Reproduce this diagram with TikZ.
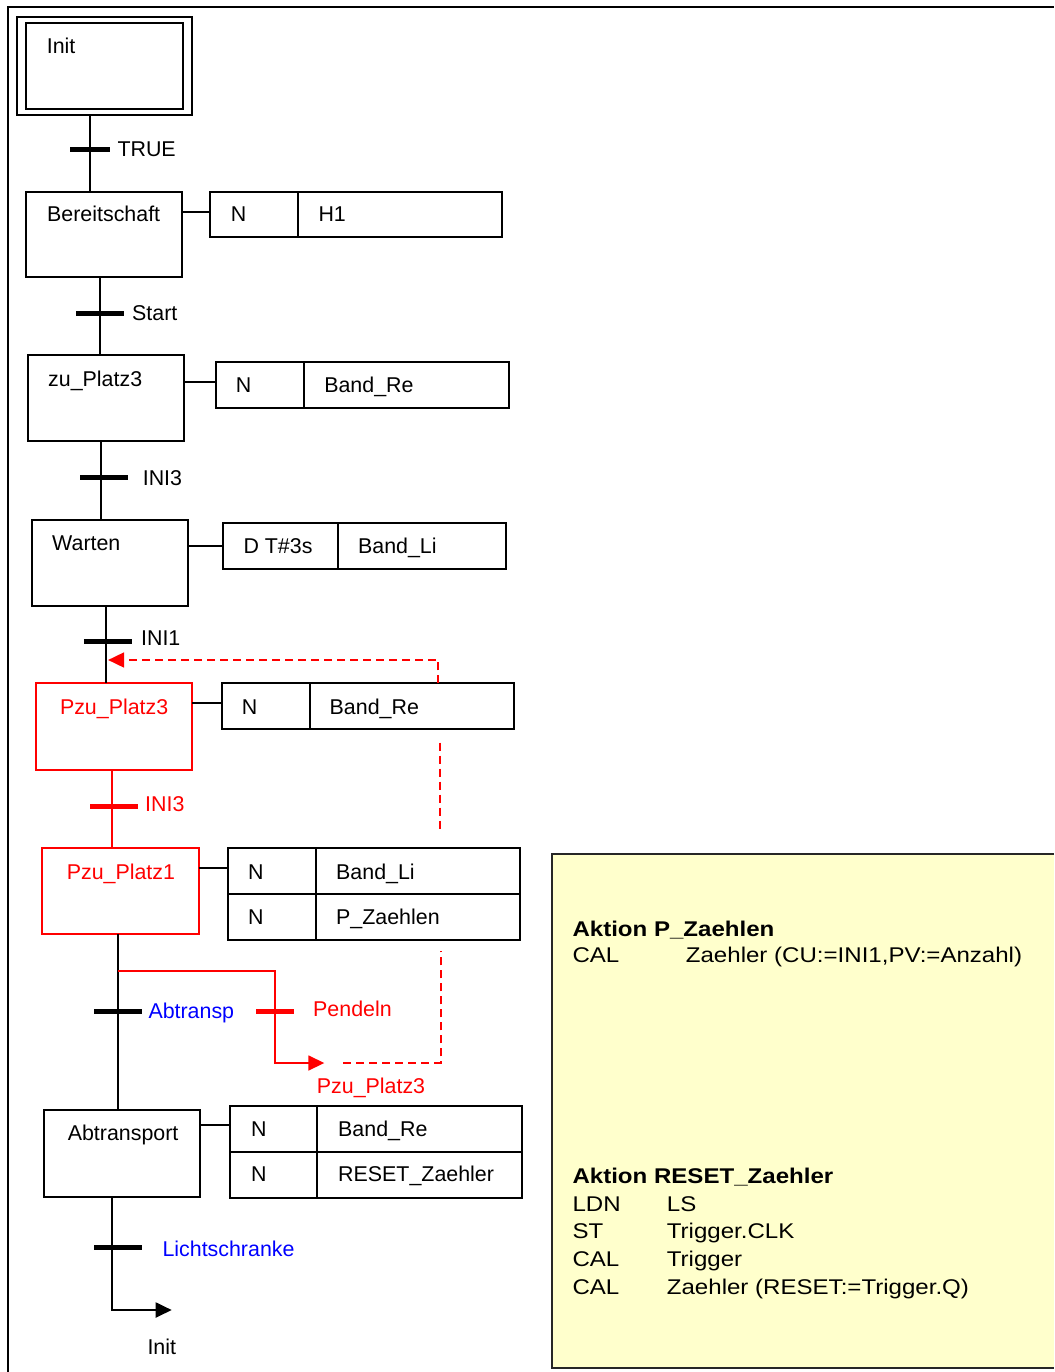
\documentclass[tikz,border=0pt]{standalone}
\usepackage{fontspec}
\setmainfont{Liberation Sans}
\newfontfamily\yfont[FakeStretch=1.13]{Liberation Sans}
\usetikzlibrary{arrows.meta,calc}
\definecolor{yel}{HTML}{FFFFCC}
\definecolor{sred}{HTML}{FF0000}
\definecolor{sblue}{HTML}{0000FF}
\begin{document}
\begin{tikzpicture}[x=1pt,y=-1pt,
  box/.style={draw, line width=2pt, inner sep=0pt, outer sep=0pt, anchor=north west},
  rbox/.style={box, draw=sred},
  cell/.style={box, fill=white},
  lbl/.style={inner sep=0pt, outer sep=0pt, anchor=base west, xshift=-0.8pt, font=\fontsize{21.4}{25}\selectfont},
  ylbl/.style={inner sep=0pt, outer sep=0pt, anchor=base west, xshift=-0.8pt, font=\yfont\fontsize{21.3}{25}\selectfont},
  link/.style={line width=2pt},
  bar/.style={line width=5pt},
  arr/.style={-{Triangle[length=16pt,width=15pt]}},
  dashline/.style={color=sred, line width=1.8pt, dash pattern=on 8pt off 5pt},
]
\useasboundingbox (0,0) rectangle (1054,1372);

% outer frame
\coordinate (fbl) at (8,1372);
\coordinate (ftl) at (8,7);
\coordinate (ftr) at (1054,7);
\draw[line width=2.2pt] (fbl) -- (ftl) -- (ftr);

% yellow note
\node[box, draw=none, fill=yel, minimum width=502pt, minimum height=514.5pt] (ybox) at (552,853.5) {};
\draw[line width=2pt, black!85] (ybox.north east) -- (ybox.north west) -- (ybox.south west) -- (ybox.south east);
\node[ylbl] (y1) at (573.3,936.5) {\bfseries Aktion P\_Zaehlen};
\node[ylbl] (y2) at (573.3,962.5) {CAL};
\node[ylbl] (y3) at (686.7,962.5) {Zaehler (CU:=INI1,PV:=Anzahl)};
\node[ylbl] (y4) at (573.3,1183.5) {\bfseries Aktion RESET\_Zaehler};
\node[ylbl] (y5) at (573.3,1211.5) {LDN};
\node[ylbl] (y6) at (667.7,1211.5) {LS};
\node[ylbl] (y7) at (573.3,1238.7) {ST};
\node[ylbl] (y8) at (667.7,1238.7) {Trigger.CLK};
\node[ylbl] (y9) at (573.3,1266) {CAL};
\node[ylbl] (y10) at (667.7,1266) {Trigger};
\node[ylbl] (y11) at (573.3,1294) {CAL};
\node[ylbl] (y12) at (667.7,1294) {Zaehler (RESET:=Trigger.Q)};

% steps
\node[box, minimum width=174.7pt, minimum height=98pt] (s0) at (17.3,17.3) {};
\node[box, minimum width=157.3pt, minimum height=86.6pt] (s0i) at (26,22.7) {};
\node[lbl] (t0) at (47.7,54) {Init};

\node[box, minimum width=156pt, minimum height=85.3pt] (s1) at (26,191.7) {};
\node[lbl] (t1) at (48,222) {Bereitschaft};

\node[box, minimum width=156.5pt, minimum height=86pt] (s2) at (27.7,355) {};
\node[lbl] (t2) at (49,386.7) {zu\_Platz3};

\node[box, minimum width=156.1pt, minimum height=85.7pt] (s3) at (32.1,520) {};
\node[lbl] (t3) at (53,550) {Warten};

\node[rbox, minimum width=156.8pt, minimum height=86.7pt] (s4) at (35.5,683.3) {};
\node[lbl, text=sred] (t4) at (60.8,714.3) {Pzu\_Platz3};

\node[rbox, minimum width=156.8pt, minimum height=86pt] (s5) at (41.9,848) {};
\node[lbl, text=sred] (t5) at (67.6,879) {Pzu\_Platz1};

\node[box, minimum width=156pt, minimum height=87.3pt] (s6) at (44.2,1110) {};
\node[lbl] (t6) at (68.6,1140.7) {Abtransport};

% actions
\node[cell, minimum width=88.3pt, minimum height=45.6pt] (a1q) at (210,191.7) {};
\node[cell, minimum width=204pt, minimum height=45.6pt] (a1n) at (298.3,191.7) {};
\node[lbl] (a1qt) at (231.7,221.7) {N};
\node[lbl] (a1nt) at (319.3,221.7) {H1};

\node[cell, minimum width=88.6pt, minimum height=46pt] (a2q) at (215.6,361.7) {};
\node[cell, minimum width=204.4pt, minimum height=46pt] (a2n) at (304.2,361.7) {};
\node[lbl] (a2qt) at (236.6,392) {N};
\node[lbl] (a2nt) at (325.1,392) {Band\_Re};

\node[cell, minimum width=114.6pt, minimum height=46pt] (a3q) at (223.4,523.3) {};
\node[cell, minimum width=168.2pt, minimum height=46pt] (a3n) at (338,523.3) {};
\node[lbl] (a3qt) at (244.3,553.7) {D T\#3s};
\node[lbl] (a3nt) at (358.9,553.7) {Band\_Li};

\node[cell, minimum width=87.9pt, minimum height=46pt] (a4q) at (222,683.3) {};
\node[cell, minimum width=204.4pt, minimum height=46pt] (a4n) at (309.9,683.3) {};
\node[lbl] (a4qt) at (242.6,714.3) {N};
\node[lbl] (a4nt) at (330.5,714.3) {Band\_Re};

\node[cell, minimum width=87.9pt, minimum height=46pt] (a5q) at (228.1,848) {};
\node[cell, minimum width=204pt, minimum height=46pt] (a5n) at (316,848) {};
\node[cell, minimum width=87.9pt, minimum height=46pt] (a5q2) at (228.1,894) {};
\node[cell, minimum width=204pt, minimum height=46pt] (a5n2) at (316,894) {};
\node[lbl] (a5qt) at (249,879) {N};
\node[lbl] (a5nt) at (337,879) {Band\_Li};
\node[lbl] (a5qt2) at (249,924) {N};
\node[lbl] (a5nt2) at (337,924) {P\_Zaehlen};

\node[cell, minimum width=87.7pt, minimum height=46.3pt] (a6q) at (229.7,1105.7) {};
\node[cell, minimum width=204.9pt, minimum height=46.3pt] (a6n) at (317.4,1105.7) {};
\node[cell, minimum width=87.7pt, minimum height=45.7pt] (a6q2) at (229.7,1152) {};
\node[cell, minimum width=204.9pt, minimum height=45.7pt] (a6n2) at (317.4,1152) {};
\node[lbl] (a6qt) at (251.8,1136) {N};
\node[lbl] (a6nt) at (339,1136) {Band\_Re};
\node[lbl] (a6qt2) at (251.8,1181.7) {N};
\node[lbl] (a6nt2) at (339,1181.7) {RESET\_Zaehler};

% step-to-action links
\foreach \s/\a/\d in {s1/a1q/20, s2/a2q/20, s3/a3q/22.4, s4/a4q/20, s5/a5q/19.7, s6/a6q/19.3}{
  \coordinate (c\a) at ([yshift=-\d pt]\a.north west);
  \draw[link] (\s.east |- c\a) -- (c\a);
}

% transitions
\coordinate (c0) at (90,149.3);
\draw[link] (c0 |- s0.south) -- (c0 |- s1.north);
\draw[bar] ([xshift=-20pt]c0) -- ([xshift=20pt]c0);
\node[lbl] (tr0) at (118.3,156.7) {TRUE};

\coordinate (c1) at (100,313);
\draw[link] (c1 |- s1.south) -- (c1 |- s2.north);
\draw[bar] ([xshift=-24pt]c1) -- ([xshift=24pt]c1);
\node[lbl] (tr1) at (133,320) {Start};

\coordinate (c2) at (101.4,477.3);
\draw[link] (c2 |- s2.south) -- (c2 |- s3.north);
\draw[bar] ([xshift=-21.3pt]c2) -- ([xshift=26.3pt]c2);
\node[lbl] (tr2) at (143.6,485.7) {INI3};

\coordinate (c3) at (105.5,641.7);
\draw[link] (c3 |- s3.south) -- (c3 |- s4.north);
\draw[bar] ([xshift=-21.7pt]c3) -- ([xshift=26.3pt]c3);
\node[lbl] (tr3) at (141.9,645.7) {INI1};

\coordinate (c4) at (111.5,806.3);
\draw[link, color=sred] (c4 |- s4.south) -- (c4 |- s5.north);
\draw[bar, color=sred] ([xshift=-21.3pt]c4) -- ([xshift=26pt]c4);
\node[lbl, text=sred] (tr4) at (146,811) {INI3};

\coordinate (c5) at (117.6,1011.7);
\draw[link] (c5 |- s5.south) -- (c5 |- s6.north);
\draw[bar] ([xshift=-23.6pt]c5) -- ([xshift=24.4pt]c5);
\node[lbl, text=sblue] (tr5) at (149.3,1018) {Abtransp};

% alternative branch (Pendeln)
\coordinate (rb) at (117.6,971);
\coordinate (rbc) at (275,1011.7);
\coordinate (rtip) at (324.3,1063);
\draw[color=sred, line width=1.7pt, arr] (rb) -- (rbc |- rb) -- (rbc |- rtip) -- (rtip);
\draw[bar, color=sred] ([xshift=-19pt]rbc) -- ([xshift=19pt]rbc);
\node[lbl, text=sred] (tr6) at (314,1016) {Pendeln};
\node[lbl, text=sred] (jmp1) at (317.7,1093) {Pzu\_Platz3};

% dashed return line
\coordinate (d1) at (343.3,1063);
\coordinate (d2) at (440.7,950.7);
\draw[dashline] (d1) -- (d1 -| d2) -- (d2);
\coordinate (d3) at (440,742.7);
\coordinate (d4) at (440,833.3);
\draw[dashline] (d3) -- (d4);
\coordinate (d5) at (438.3,660);
\coordinate (d6) at (108.1,660);
\draw[dashline, arr] (d5 |- a4n.north) -- (d5) -- (d6);

% final transition
\coordinate (c7) at (112,1247.7);
\coordinate (c7e) at (112,1310);
\coordinate (c7t) at (171.7,1310);
\draw[link, arr] (c7 |- s6.south) -- (c7e) -- (c7t);
\draw[bar] ([xshift=-17.7pt]c7) -- ([xshift=29.7pt]c7);
\node[lbl, text=sblue] (tr7) at (163.3,1256) {Lichtschranke};
\node[lbl] (jmp2) at (148.3,1354) {Init};
\end{tikzpicture}
\end{document}
